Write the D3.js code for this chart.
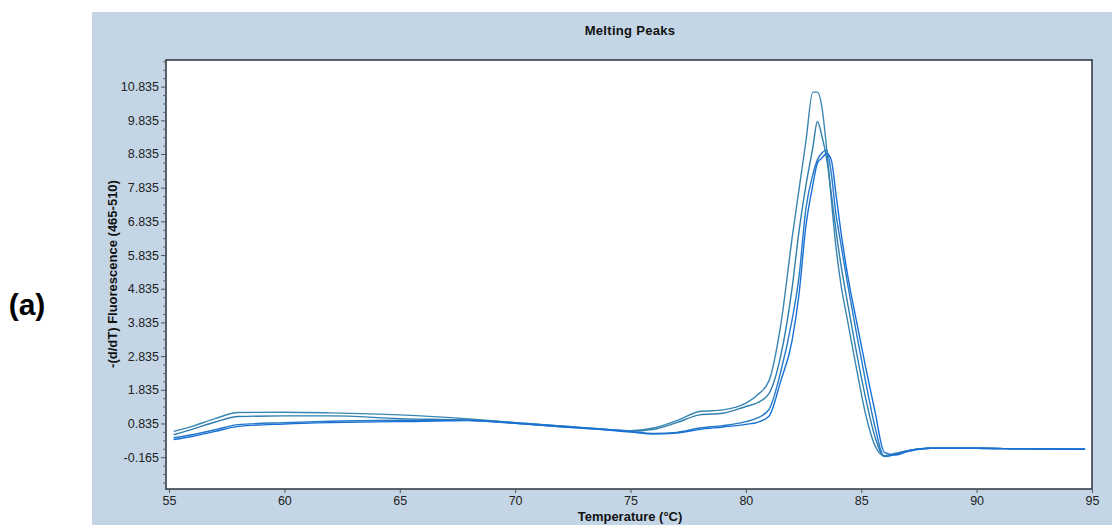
<!DOCTYPE html>
<html>
<head>
<meta charset="utf-8">
<script src="https://cdn.jsdelivr.net/npm/d3@7"></script>
<style>
  html, body { margin: 0; padding: 0; background: #ffffff; }
  svg { display: block; font-family: "Liberation Sans", Arial, sans-serif; }
</style>
</head>
<body>
<svg id="chart" width="1112" height="525"></svg>
<script>
// ---- data ----
const chartTitle = "Melting Peaks";
const xLabel = "Temperature (°C)";
const yLabel = "-(d/dT) Fluorescence (465-510)";
const panelLabel = "(a)";

const temperatures = [55.2, 56, 57, 58, 60, 62, 65, 68, 70, 72, 74, 75, 76, 77, 78, 79, 80, 80.5,
  81, 81.5, 82, 82.3, 82.6, 82.9, 83.1, 83.3, 83.5, 83.7, 83.9, 84.1, 84.4, 84.8, 85.2, 85.6,
  86.0, 86.5, 87.0, 87.5, 88, 90, 92, 94.7];

const sampleA = [0.6, 0.75, 0.98, 1.16, 1.17, 1.15, 1.09, 0.97, 0.86, 0.76, 0.66, 0.62, 0.7, 0.92, 1.19, 1.24, 1.44, 1.68,
  2.1, 3.71, 6.32, 7.77, 9.2, 10.67, 10.67, 10.2, 9.0, 7.5, 6.1, 5.05, 3.91, 2.44, 1.08, 0.17,
  -0.12, -0.05, 0.03, 0.08, 0.1, 0.1, 0.08, 0.07];
const sampleB = [0.5, 0.66, 0.88, 1.04, 1.06, 1.06, 0.98, 0.93, 0.84, 0.74, 0.65, 0.6, 0.66, 0.86, 1.09, 1.14, 1.34, 1.45,
  1.72, 2.81, 4.84, 6.53, 7.89, 9.02, 9.8, 9.35, 8.7, 7.67, 6.59, 5.63, 4.44, 2.92, 1.56, 0.43,
  -0.14, -0.06, 0.02, 0.08, 0.1, 0.1, 0.08, 0.07];
const sampleC = [0.41, 0.5, 0.65, 0.8, 0.86, 0.9, 0.93, 0.93, 0.86, 0.76, 0.66, 0.6, 0.54, 0.57, 0.7, 0.77, 0.89, 1.0,
  1.25, 2.34, 3.9, 5.18, 7.21, 8.22, 8.66, 8.87, 8.95, 8.26, 7.07, 6.23, 5.01, 3.49, 2.04, 0.72,
  -0.15, -0.08, 0.02, 0.08, 0.1, 0.1, 0.08, 0.07];
const sampleD = [0.36, 0.45, 0.6, 0.75, 0.82, 0.86, 0.89, 0.92, 0.84, 0.74, 0.64, 0.58, 0.52, 0.55, 0.66, 0.73, 0.81, 0.87,
  1.05, 2.07, 3.29, 4.66, 6.69, 7.91, 8.56, 8.72, 8.85, 8.66, 7.67, 6.62, 5.28, 3.85, 2.47, 1.17,
  -0.02, -0.1, 0.0, 0.07, 0.1, 0.1, 0.08, 0.07];

const xTicks = [55, 60, 65, 70, 75, 80, 85, 90, 95];
const yTicks = [-0.165, 0.835, 1.835, 2.835, 3.835, 4.835, 5.835, 6.835, 7.835, 8.835, 9.835, 10.835];

const series = [
  { name: "A", values: sampleA, color: "#3a86b2" },
  { name: "B", values: sampleB, color: "#2f7eae" },
  { name: "C", values: sampleC, color: "#2679c6" },
  { name: "D", values: sampleD, color: "#1670d8" }
];

// ---- layout ----
const svg = d3.select("#chart");
const frame = { left: 166, top: 60, right: 1092, bottom: 489 };

svg.append("rect").attr("x", 92).attr("y", 12).attr("width", 1112 - 92).attr("height", 525 - 12)
  .attr("fill", "#c4d6e6");

const x = d3.scaleLinear().domain([55, 95]).range([169, 1092]);
const y = d3.scaleLinear().domain([-1.11, 11.625]).range([frame.bottom, frame.top]);

svg.append("rect")
  .attr("x", frame.left).attr("y", frame.top)
  .attr("width", frame.right - frame.left).attr("height", frame.bottom - frame.top)
  .attr("fill", "#ffffff").attr("stroke", "none");

svg.append("clipPath").attr("id", "clip").append("rect")
  .attr("x", frame.left).attr("y", frame.top)
  .attr("width", frame.right - frame.left).attr("height", frame.bottom - frame.top);

const line = d3.line()
  .x((d, i) => x(temperatures[i]))
  .y(d => y(d))
  .curve(d3.curveMonotoneX);

const g = svg.append("g").attr("clip-path", "url(#clip)");
series.forEach(s => {
  g.append("path")
    .datum(s.values)
    .attr("d", line)
    .attr("fill", "none")
    .attr("stroke", s.color)
    .attr("stroke-width", 1.4)
    .attr("stroke-linejoin", "round");
});

svg.append("rect")
  .attr("x", frame.left).attr("y", frame.top)
  .attr("width", frame.right - frame.left).attr("height", frame.bottom - frame.top)
  .attr("fill", "none").attr("stroke", "#27323c").attr("stroke-width", 1.5);

// y axis
const yAxis = d3.axisLeft(y).tickValues(yTicks).tickSize(5).tickPadding(2)
  .tickFormat(v => v.toFixed(3));
const yG = svg.append("g").attr("transform", `translate(${frame.left},0)`).call(yAxis);
yG.select(".domain").remove();
yG.selectAll("text").attr("font-size", "12.5px").attr("fill", "#222").attr("font-family", "Liberation Sans, Arial, sans-serif");
yG.selectAll("line").attr("stroke", "#555");

// minor y ticks
const minorVals = d3.range(-3, 48).map(k => -0.165 + k * 0.25)
  .filter(v => v > -1.1 && v < 11.6 && Math.abs(((v + 0.165) % 1)) > 0.01);
const yMinor = d3.axisLeft(y).tickValues(minorVals).tickSize(3).tickFormat("");
const ymG = svg.append("g").attr("transform", `translate(${frame.left},0)`).call(yMinor);
ymG.select(".domain").remove();
ymG.selectAll("line").attr("stroke", "#666");

// x axis
const xAxis = d3.axisBottom(x).tickValues(xTicks).tickSize(4).tickPadding(3).tickFormat(d3.format("d"));
const xG = svg.append("g").attr("transform", `translate(0,${frame.bottom})`).call(xAxis);
xG.select(".domain").remove();
xG.selectAll("text").attr("font-size", "12.5px").attr("fill", "#222").attr("font-family", "Liberation Sans, Arial, sans-serif");
xG.selectAll("line").attr("stroke", "#555");

// titles
svg.append("text").attr("x", 630).attr("y", 35).attr("text-anchor", "middle")
  .attr("font-size", "13px").attr("font-weight", "bold").attr("letter-spacing", "0.3px")
  .attr("fill", "#111").text(chartTitle);

svg.append("text").attr("x", 630).attr("y", 521).attr("text-anchor", "middle")
  .attr("font-size", "13px").attr("font-weight", "bold").attr("fill", "#111").text(xLabel);

svg.append("text")
  .attr("transform", "translate(117,274) rotate(-90)")
  .attr("text-anchor", "middle")
  .attr("font-size", "13px").attr("font-weight", "bold").attr("fill", "#111").text(yLabel);

svg.append("text").attr("x", 27).attr("y", 315).attr("text-anchor", "middle")
  .attr("font-size", "30px").attr("font-weight", "bold").attr("fill", "#000")
  .attr("font-family", "Liberation Sans, Arial, sans-serif").text(panelLabel);
</script>
</body>
</html>
